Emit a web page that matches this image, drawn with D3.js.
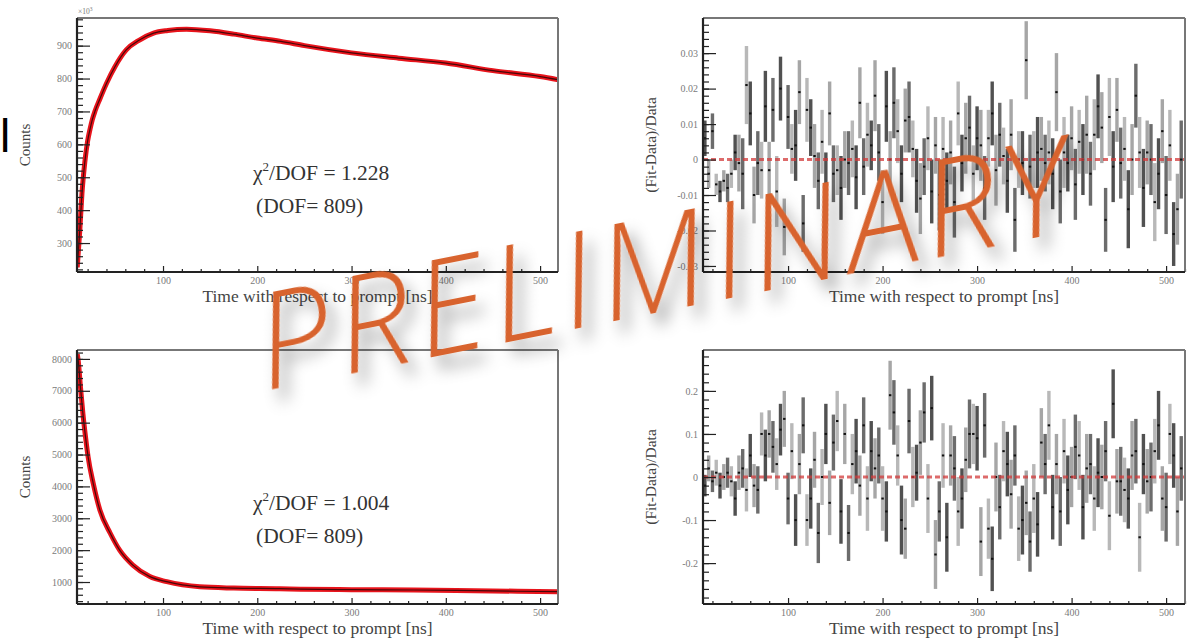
<!DOCTYPE html>
<html><head><meta charset="utf-8">
<script src="https://cdn.jsdelivr.net/npm/d3@7"></script>
<style>body{margin:0;background:#fff;} svg{display:block}</style>
</head><body>
<svg id="c" width="1190" height="640"></svg>
<script>
// ---------------- DATA ----------------
const xTickValues = [100, 200, 300, 400, 500];
const xTitle = "Time with respect to prompt [ns]";

// top-left: counts (x10^3) vs time
const tlTime   = [9, 11.7, 14, 17, 20, 22.5, 25, 28, 33, 40, 49, 61, 75, 90, 105, 125, 150, 175, 200, 225, 250, 300, 350, 400, 450, 500, 520];
const tlCounts = [226, 338, 450, 545, 610, 645, 675, 702, 738, 785, 836, 887, 917, 938, 946, 950, 945, 935, 923, 913, 900, 878, 862, 847, 824, 806, 796];
const tlYTicks = [300, 400, 500, 600, 700, 800, 900];

// bottom-left: counts vs time
const blTime   = [9, 10, 12.5, 15, 18, 20.5, 26, 33, 44, 54, 68, 86, 104, 139, 175, 224, 246, 300, 366, 450, 520];
const blCounts = [8150, 7960, 7100, 6290, 5500, 4930, 4090, 3260, 2530, 2000, 1530, 1170, 1010, 850, 810, 790, 775, 760, 750, 720, 695];
const blYTicks = [1000, 2000, 3000, 4000, 5000, 6000, 7000, 8000];

// residual bins (4 ns wide, first bin starts at 10 ns)
const binStart = 10, binWidth = 4;

const resTopVals = [
0.006,-0.004,0.008,-0.007,-0.009,-0.006,-0.008,-0.004,0.002,-0.001,
-0.004,0.021,0.013,-0.010,-0.001,-0.003,0.015,-0.003,0.014,-0.009,
0.020,-0.019,0.012,0.003,0.004,0.019,-0.018,0.014,0.009,0.001,
-0.006,0.005,-0.008,0.013,-0.004,-0.003,-0.008,0.000,-0.001,0.003,
-0.005,0.016,-0.002,0.007,0.004,0.018,0.002,-0.012,0.015,0.000,
0.016,0.008,-0.004,0.011,0.012,0.003,-0.006,-0.011,-0.002,0.006,
-0.009,0.004,-0.010,0.003,-0.006,0.002,-0.012,0.013,-0.001,0.006,
0.009,-0.004,0.006,0.004,-0.008,0.006,0.013,-0.003,0.007,0.001,
-0.006,0.007,-0.017,0.000,-0.001,0.028,-0.002,0.000,0.002,0.003,
-0.001,0.002,-0.004,0.019,-0.009,0.002,-0.001,0.006,-0.007,0.005,
0.000,0.007,-0.004,0.007,0.015,0.009,-0.017,0.012,-0.002,0.014,
-0.001,0.003,-0.014,0.000,0.018,0.002,-0.008,0.002,0.000,-0.012,
-0.004,0.008,-0.010,0.004,-0.021,-0.014,0.000];
const resTopErr = [
0.005,0.004,0.005,0.003,0.003,0.003,0.004,0.004,0.005,0.008,
0.010,0.011,0.009,0.008,0.009,0.008,0.010,0.008,0.009,0.010,
0.009,0.008,0.009,0.007,0.010,0.009,0.008,0.009,0.008,0.009,
0.008,0.009,0.010,0.009,0.008,0.007,0.009,0.008,0.009,0.008,
0.009,0.010,0.008,0.009,0.007,0.010,0.008,0.009,0.010,0.008,
0.010,0.009,0.008,0.009,0.010,0.008,0.009,0.010,0.008,0.009,
0.009,0.008,0.010,0.009,0.008,0.009,0.010,0.009,0.008,0.010,
0.009,0.008,0.009,0.010,0.009,0.008,0.009,0.010,0.009,0.008,
0.009,0.010,0.009,0.008,0.009,0.011,0.009,0.008,0.010,0.009,
0.008,0.009,0.010,0.011,0.009,0.010,0.008,0.009,0.010,0.009,
0.010,0.011,0.009,0.010,0.009,0.010,0.009,0.011,0.010,0.009,
0.010,0.009,0.011,0.010,0.009,0.010,0.011,0.009,0.010,0.011,
0.010,0.009,0.011,0.010,0.009,0.010,0.011];
const trYTicks = [-0.03, -0.02, -0.01, 0, 0.01, 0.02, 0.03];
const trYLabels = ["-0.03", "-0.02", "-0.01", "0", "0.01", "0.02", "0.03"];

const resBotVals = [
-0.02,0.02,-0.01,0.01,-0.02,0.00,0.01,-0.01,-0.05,0.01,
0.02,-0.03,0.05,-0.02,-0.03,0.10,0.05,0.10,0.07,0.03,
0.11,0.135,-0.05,0.06,-0.10,0.03,0.12,-0.10,-0.05,0.04,
-0.13,0.00,0.10,-0.06,0.08,0.13,-0.08,0.10,-0.13,0.03,
0.06,-0.02,0.12,-0.05,0.06,0.02,0.05,-0.05,-0.08,0.19,
0.15,0.05,-0.10,-0.12,0.13,0.00,0.01,0.08,0.15,-0.05,
0.16,-0.18,-0.08,0.05,-0.14,0.05,0.02,-0.08,-0.05,0.04,
0.10,0.10,0.09,-0.15,0.12,-0.12,-0.19,0.00,-0.07,0.06,
0.03,-0.04,0.05,-0.12,-0.10,-0.06,-0.15,-0.05,-0.11,0.08,
0.03,0.12,-0.07,0.03,-0.08,0.06,-0.03,0.00,0.07,0.05,
-0.07,0.02,0.03,-0.05,0.01,0.00,0.06,-0.09,0.17,-0.01,
-0.01,-0.03,-0.05,0.05,0.06,-0.14,0.03,-0.01,0.00,0.06,
0.12,-0.05,-0.07,0.10,0.05,-0.08,0.02];
const resBotErr = [
0.025,0.03,0.025,0.03,0.03,0.03,0.035,0.035,0.04,0.04,
0.045,0.05,0.05,0.05,0.055,0.05,0.06,0.055,0.06,0.06,
0.06,0.065,0.06,0.065,0.06,0.07,0.065,0.06,0.07,0.065,
0.07,0.065,0.07,0.075,0.065,0.07,0.075,0.07,0.065,0.07,
0.075,0.07,0.065,0.075,0.07,0.07,0.065,0.075,0.07,0.08,
0.075,0.07,0.08,0.07,0.075,0.07,0.065,0.075,0.07,0.08,
0.075,0.08,0.07,0.075,0.08,0.07,0.075,0.08,0.07,0.075,
0.08,0.07,0.075,0.08,0.075,0.07,0.075,0.08,0.075,0.07,
0.075,0.08,0.07,0.075,0.08,0.075,0.07,0.08,0.075,0.08,
0.07,0.08,0.075,0.07,0.08,0.075,0.08,0.07,0.075,0.08,
0.075,0.08,0.07,0.075,0.08,0.075,0.07,0.08,0.08,0.075,
0.08,0.075,0.07,0.08,0.075,0.08,0.07,0.075,0.08,0.075,
0.08,0.075,0.08,0.07,0.075,0.08,0.075];
const brYTicks = [-0.2, -0.1, 0, 0.1, 0.2];
const brYLabels = ["-0.2", "-0.1", "0", "0.1", "0.2"];

const fitText = [["1.228", "809"], ["1.004", "809"]];
const watermark = "PRELIMINARY";

// ---------------- DRAWING ----------------
const svg = d3.select("#c");
const defs = svg.append("defs");
const serif = "'Liberation Serif','DejaVu Serif',serif";

const shadow = defs.append("filter").attr("id", "shd").attr("x", "-20%").attr("y", "-40%").attr("width", "140%").attr("height", "190%");
shadow.append("feDropShadow").attr("dx", 6).attr("dy", 13).attr("stdDeviation", 8)
  .attr("flood-color", "#000").attr("flood-opacity", 0.38);

function panel(opts) {
  const x = d3.scaleLinear().domain(opts.xd).range([opts.l, opts.r]);
  const y = d3.scaleLinear().domain(opts.yd).range([opts.b, opts.t]);
  const g = svg.append("g");
  const cid = "clip" + opts.id;
  defs.append("clipPath").attr("id", cid).append("rect")
    .attr("x", opts.l).attr("y", opts.t).attr("width", opts.r - opts.l).attr("height", opts.b - opts.t);
  const plot = g.append("g").attr("clip-path", `url(#${cid})`);

  // axes ticks (inward, ROOT style)
  const xMinor = d3.range(20, 521, 20).filter(v => v >= opts.xd[0] && v <= opts.xd[1] && v % 100 !== 0);
  const ax = g.append("g").attr("transform", `translate(0,${opts.b})`);
  ax.call(d3.axisBottom(x).tickValues(xTickValues).tickSize(-6).tickPadding(5).tickFormat(d3.format("d")));
  const axm = g.append("g").attr("transform", `translate(0,${opts.b})`);
  axm.call(d3.axisBottom(x).tickValues(xMinor).tickSize(-3).tickFormat(""));
  const ay = g.append("g").attr("transform", `translate(${opts.l},0)`);
  ay.call(d3.axisLeft(y).tickValues(opts.yTicks).tickSize(-13).tickPadding(5)
    .tickFormat((d, i) => opts.yLabels ? opts.yLabels[i] : d));
  const mv = [];
  const s = opts.yMinorStep;
  for (let v = Math.ceil(opts.yd[0] / s) * s; v <= opts.yd[1]; v += s) mv.push(+v.toFixed(6));
  const aym = g.append("g").attr("transform", `translate(${opts.l},0)`);
  aym.call(d3.axisLeft(y).tickValues(mv).tickSize(-6).tickFormat(""));
  [ax, axm, ay, aym].forEach(a => {
    a.select(".domain").remove();
    a.selectAll(".tick line").attr("stroke", "#222").attr("stroke-width", 1.2);
    a.selectAll(".tick text").attr("fill", "#7a7a7a").attr("font-family", serif).attr("font-size", 10);
  });

  // frame
  g.append("line").attr("x1", opts.l).attr("x2", opts.r).attr("y1", opts.t).attr("y2", opts.t).attr("stroke", "#777").attr("stroke-width", 2);
  g.append("line").attr("x1", opts.r).attr("x2", opts.r).attr("y1", opts.t).attr("y2", opts.b).attr("stroke", "#777").attr("stroke-width", 2);
  g.append("line").attr("x1", opts.l).attr("x2", opts.r).attr("y1", opts.b).attr("y2", opts.b).attr("stroke", "#222").attr("stroke-width", 2.2);
  g.append("line").attr("x1", opts.l).attr("x2", opts.l).attr("y1", opts.t).attr("y2", opts.b).attr("stroke", "#222").attr("stroke-width", 2.2);

  // titles
  g.append("text").attr("x", (opts.l + opts.r) / 2).attr("y", opts.b + 30).attr("text-anchor", "middle")
    .attr("font-family", serif).attr("font-size", 17.5).attr("fill", "#444").text(xTitle);
  g.append("text").attr("transform", `translate(${opts.yTitleX},${(opts.t + opts.b) / 2}) rotate(-90)`)
    .attr("text-anchor", "middle").attr("font-family", serif).attr("font-size", opts.yTitleSize).attr("fill", "#444").text(opts.yTitle);
  return {x, y, g, plot};
}

function drawCurve(p, times, vals) {
  const pts = times.map((t, i) => [t, vals[i]]);
  const line = d3.line().x(d => p.x(d[0])).y(d => p.y(d[1])).curve(d3.curveMonotoneX);
  p.plot.append("path").attr("d", line(pts)).attr("fill", "none").attr("stroke", "#e8141c").attr("stroke-width", 5).attr("stroke-linejoin", "round");
  p.plot.append("path").attr("d", line(pts)).attr("fill", "none").attr("stroke", "#2a0505").attr("stroke-width", 1.2).attr("opacity", 0.85);
}

function drawResid(p, vals, errs) {
  const bins = vals.map((v, i) => ({t: binStart + binWidth * (i + 0.5), v, e: errs[i], i}));
  const cols = ["#3e3e3e", "#9c9c9c", "#5c5c5c", "#b0b0b0"];
  p.plot.selectAll("rect.eb").data(bins).join("rect").attr("class", "eb")
    .attr("x", d => p.x(d.t) - 1.7).attr("width", 3.4)
    .attr("y", d => p.y(d.v + d.e)).attr("height", d => p.y(d.v - d.e) - p.y(d.v + d.e))
    .attr("fill", d => cols[d.i % 4]).attr("opacity", 0.9);
  p.plot.selectAll("rect.mk").data(bins).join("rect").attr("class", "mk")
    .attr("x", d => p.x(d.t) - 1.2).attr("width", 2.4)
    .attr("y", d => p.y(d.v) - 1).attr("height", 2).attr("fill", "#111");
  p.plot.append("line").attr("x1", p.x.range()[0]).attr("x2", p.x.range()[1])
    .attr("y1", p.y(0)).attr("y2", p.y(0))
    .attr("stroke", "#d23a3a").attr("stroke-width", 3).attr("stroke-dasharray", "5,3").attr("opacity", 0.75);
}

function fitLabel(p, cx, cy, vals) {
  const t1 = p.g.append("text").attr("x", cx).attr("y", cy).attr("font-family", serif).attr("font-size", 21.5).attr("fill", "#333");
  t1.append("tspan").text("χ");
  t1.append("tspan").attr("dy", -9).attr("font-size", 13).text("2");
  t1.append("tspan").attr("dy", 9).text("/DOF = " + vals[0]);
  p.g.append("text").attr("x", cx + 3).attr("y", cy + 33).attr("font-family", serif).attr("font-size", 21.5).attr("fill", "#333")
    .text("(DOF= " + vals[1] + ")");
}

// top-left
const pTL = panel({id: "tl", l: 77, r: 558, t: 18, b: 272, xd: [8.75, 519], yd: [212, 984],
  yTicks: tlYTicks, yMinorStep: 20, yTitle: "Counts", yTitleX: 30, yTitleSize: 15});
drawCurve(pTL, tlTime, tlCounts);
fitLabel(pTL, 253, 180, fitText[0]);
const xe = pTL.g.append("text").attr("x", 78).attr("y", 14).attr("font-family", serif).attr("font-size", 7.5).attr("fill", "#777");
xe.append("tspan").text("×10");
xe.append("tspan").attr("dy", -3).attr("font-size", 5.5).text("3");

// bottom-left
const pBL = panel({id: "bl", l: 77, r: 558, t: 350, b: 604, xd: [8.75, 519], yd: [310, 8280],
  yTicks: blYTicks, yMinorStep: 200, yTitle: "Counts", yTitleX: 30, yTitleSize: 15});
drawCurve(pBL, blTime, blCounts);
fitLabel(pBL, 253, 510, fitText[1]);

// top-right
const pTR = panel({id: "tr", l: 703, r: 1185, t: 18, b: 272, xd: [10, 520], yd: [-0.0317, 0.0399],
  yTicks: trYTicks, yLabels: trYLabels, yMinorStep: 0.002, yTitle: "(Fit-Data)/Data", yTitleX: 656, yTitleSize: 15.5});
drawResid(pTR, resTopVals, resTopErr);

// bottom-right
const pBR = panel({id: "br", l: 703, r: 1185, t: 350, b: 604, xd: [10, 520], yd: [-0.295, 0.295],
  yTicks: brYTicks, yLabels: brYLabels, yMinorStep: 0.02, yTitle: "(Fit-Data)/Data", yTitleX: 656, yTitleSize: 15.5});
drawResid(pBR, resBotVals, resBotErr);

// cropped slide letter at far left
svg.append("text").attr("x", 0).attr("y", 152).attr("font-family", "'Liberation Sans',Arial,sans-serif")
  .attr("font-size", 46).attr("fill", "#000").text("l");

// watermark
svg.append("text").attr("transform", "translate(266,390) rotate(-11.2)")
  .attr("font-family", "'Open Sans','DejaVu Sans',sans-serif").attr("font-weight", 300).attr("font-style", "italic")
  .attr("font-size", 132).attr("fill", "#d8642e").attr("textLength", 825).attr("lengthAdjust", "spacing")
  .attr("filter", "url(#shd)").text(watermark);
</script></body></html>
